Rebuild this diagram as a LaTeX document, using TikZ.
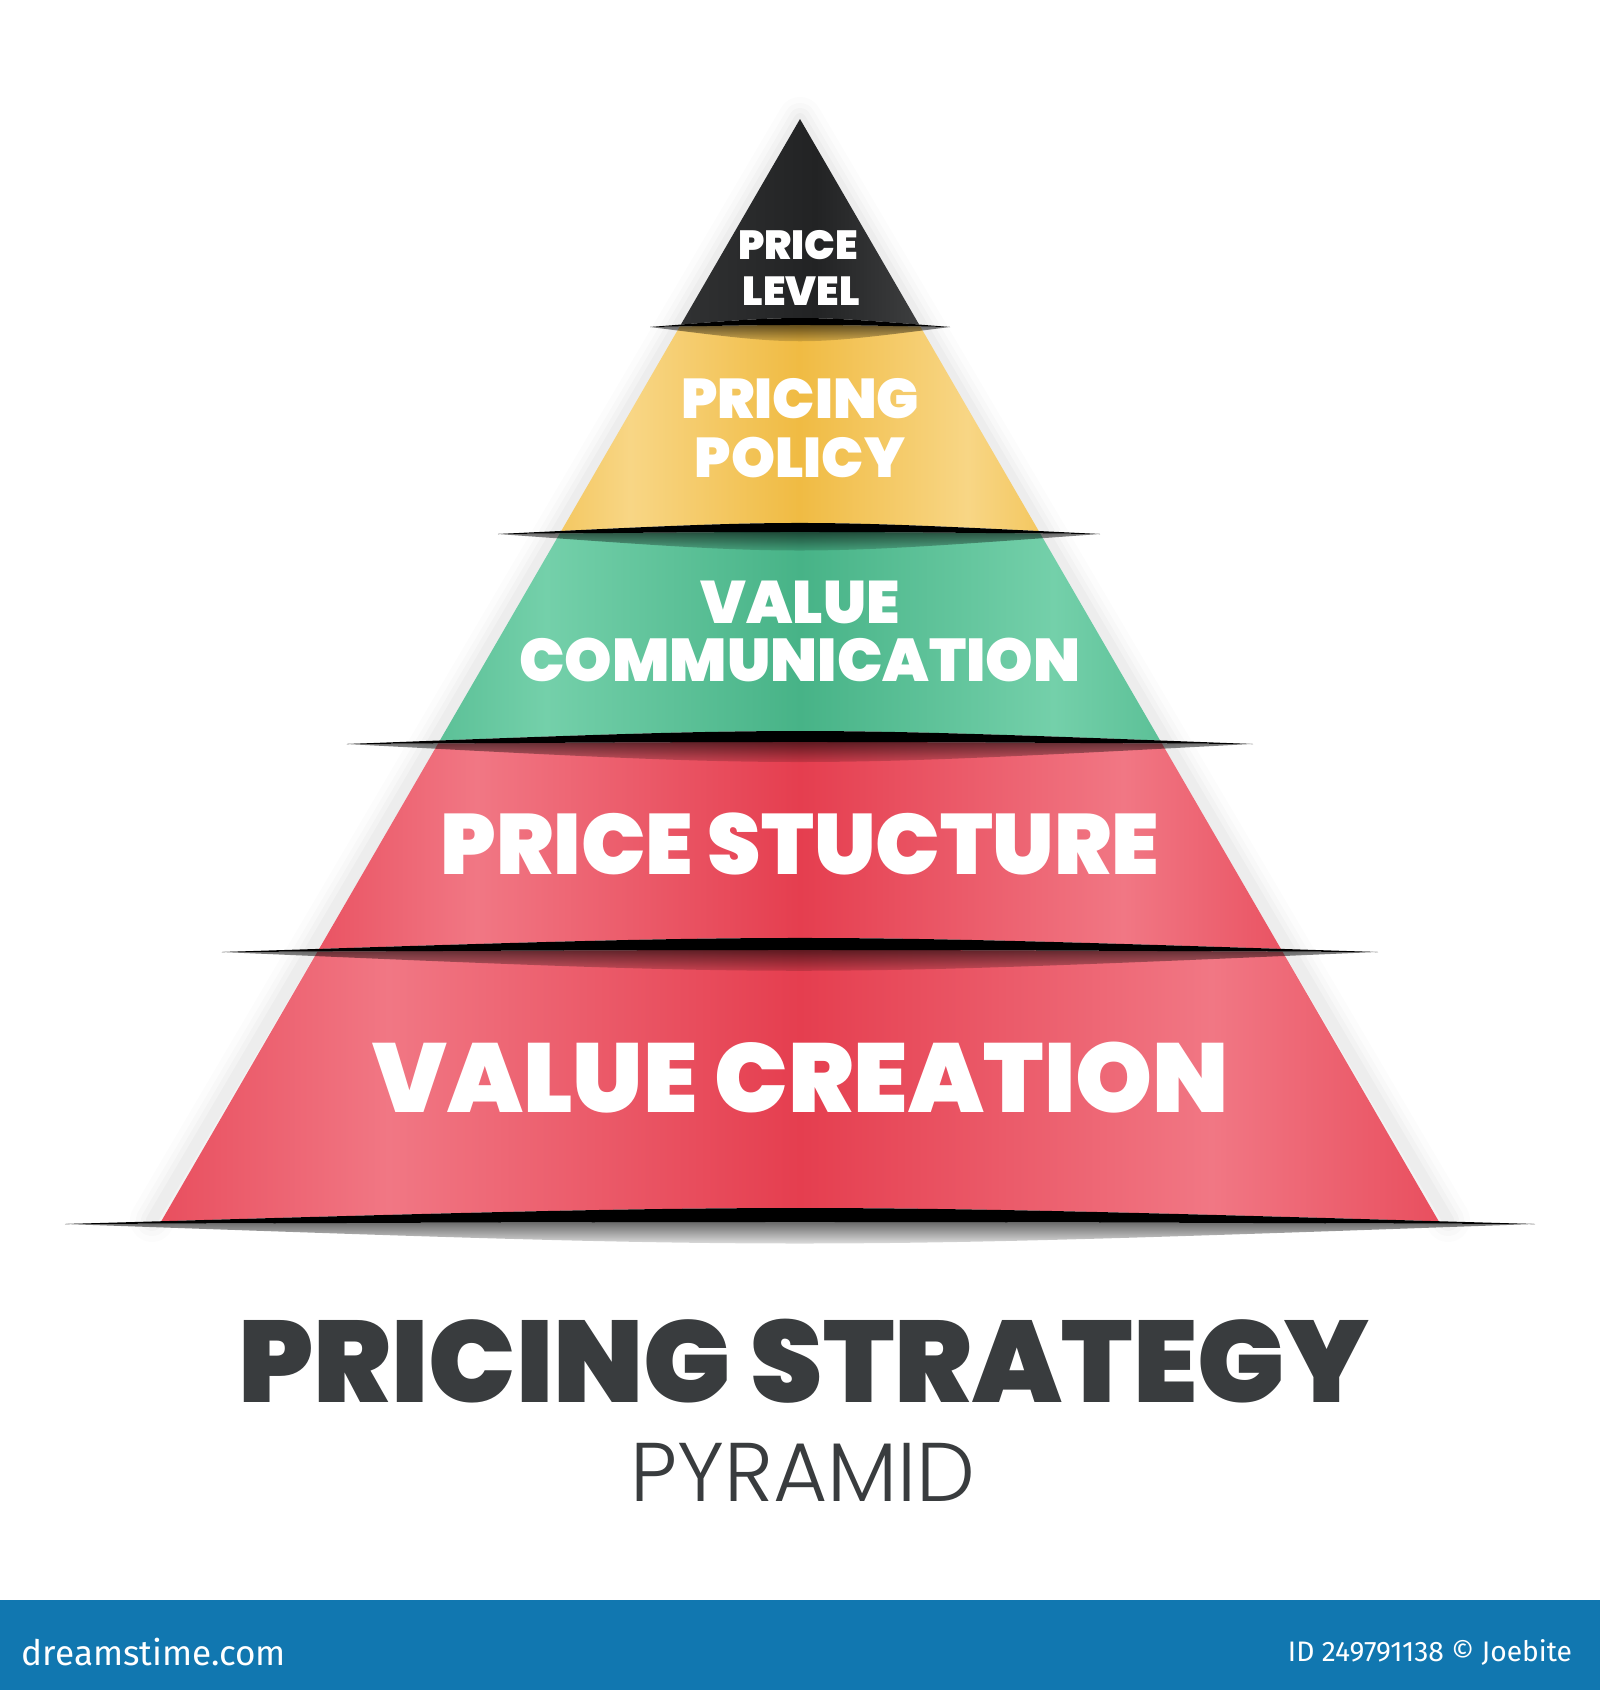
\documentclass[tikz,border=0pt]{standalone}
\usepackage{fontspec}
\usepackage{graphicx}
\usetikzlibrary{fadings}
\setmainfont{Poppins}
\IfFontExistsTF{Poppins Black}{\newfontfamily\heavyfont{Poppins Black}}{%
  \IfFontExistsTF{Poppins ExtraBold}{\newfontfamily\heavyfont{Poppins ExtraBold}}{%
    \newfontfamily\heavyfont{Poppins}[FakeBold=3]}}
\IfFontExistsTF{Poppins Light}{\newfontfamily\lightfont{Poppins Light}}{\newfontfamily\lightfont{Poppins}}
\newfontfamily\footfont{Fira Sans}

\definecolor{bkA}{HTML}{3A3B3C}
\definecolor{bkB}{HTML}{2E2F30}
\definecolor{bkC}{HTML}{222324}
\definecolor{bkD}{HTML}{444546}
\definecolor{ylD}{HTML}{F0BB43}
\definecolor{ylL}{HTML}{F8D685}
\definecolor{grD}{HTML}{47B387}
\definecolor{grL}{HTML}{74D0AA}
\definecolor{rdD}{HTML}{E53E4F}
\definecolor{rdL}{HTML}{F17784}
\definecolor{titlegray}{HTML}{393C3E}
\definecolor{footblue}{HTML}{1177B0}

\pgfdeclarehorizontalshading{blacksh}{100bp}{color(0bp)=(bkA); color(25bp)=(bkA); color(38bp)=(bkB); color(52bp)=(bkC); color(68bp)=(bkD); color(75bp)=(bkB); color(100bp)=(bkB)}
\pgfdeclarehorizontalshading{yellowsh}{100bp}{color(0bp)=(ylD); color(25bp)=(ylD); color(36bp)=(ylL); color(50bp)=(ylD); color(64bp)=(ylL); color(75bp)=(ylD); color(100bp)=(ylD)}
\pgfdeclarehorizontalshading{greensh}{100bp}{color(0bp)=(grD); color(25bp)=(grD); color(36bp)=(grL); color(50bp)=(grD); color(64bp)=(grL); color(75bp)=(grD); color(100bp)=(grD)}
\pgfdeclarehorizontalshading{redsh}{100bp}{color(0bp)=(rdD); color(25bp)=(rdD); color(36bp)=(rdL); color(50bp)=(rdD); color(64bp)=(rdL); color(75bp)=(rdD); color(100bp)=(rdD)}

\tikzset{
  tiertext/.style={text=white, inner sep=0pt, font=\heavyfont},
  slitbody/.style={fill=black},
  slitshadow/.style={fill=black, opacity=0.6, path fading=south},
  glow/.style={draw=black, line join=round, line cap=round},
}

\begin{document}
\begin{tikzpicture}[x=1pt,y=-1pt]
\useasboundingbox (0,0) rectangle (1600,1690);
\fill[white] (0,0) rectangle (1600,1690);

% soft halo around the pyramid
\foreach \w/\o in {44/0.012, 32/0.016, 22/0.02, 12/0.025}
  \draw[glow, opacity=\o, line width=\w pt] (152,1220) -- (800,119) -- (1448,1220);

% tiers
\begin{scope}
  \clip (800,119) -- (150.4,1240) -- (1449.6,1240) -- cycle;
  \shade[shading=blacksh] (600,100) -- (1000,100) -- (950,327) .. controls (800,315) .. (650,327) -- cycle;
  \shade[shading=yellowsh] (650,327) .. controls (800,324.3) .. (950,327) -- (1100,534) .. controls (800,519.3) .. (498,534) -- cycle;
  \shade[shading=greensh] (498,534) .. controls (800,531.3) .. (1100,534) -- (1253,744) .. controls (800,726.7) .. (347,744) -- cycle;
  \shade[shading=redsh] (347,744) .. controls (800,741.3) .. (1253,744) -- (1378,952) .. controls (800,933.3) .. (222,952) -- cycle;
  \shade[shading=redsh] (222,952) .. controls (800,949.3) .. (1378,952) -- (1535,1224) .. controls (800,1202.7) .. (65,1224) -- cycle;
\end{scope}

% slits with their shadows
\fill[slitshadow] (650,327) .. controls (800,324.3) .. (950,327) .. controls (800,346) .. (650,327) -- cycle;
\fill[slitbody] (650,327) .. controls (800,315) .. (950,327) .. controls (800,324.3) .. (650,327) -- cycle;

\fill[slitshadow] (498,534) .. controls (800,531.3) .. (1100,534) .. controls (800,556) .. (498,534) -- cycle;
\fill[slitbody] (498,534) .. controls (800,519.3) .. (1100,534) .. controls (800,531.3) .. (498,534) -- cycle;

\fill[slitshadow] (347,744) .. controls (800,741.3) .. (1253,744) .. controls (800,768) .. (347,744) -- cycle;
\fill[slitbody] (347,744) .. controls (800,726.7) .. (1253,744) .. controls (800,741.3) .. (347,744) -- cycle;

\fill[slitshadow] (222,952) .. controls (800,949.3) .. (1378,952) .. controls (800,977) .. (222,952) -- cycle;
\fill[slitbody] (222,952) .. controls (800,933.3) .. (1378,952) .. controls (800,949.3) .. (222,952) -- cycle;

\fill[slitshadow] (65,1224) .. controls (800,1221.3) .. (1535,1224) .. controls (800,1250) .. (65,1224) -- cycle;
\fill[slitbody] (65,1224) .. controls (800,1202.7) .. (1535,1224) .. controls (800,1221.3) .. (65,1224) -- cycle;

% tier labels
\node[tiertext] (t1a) at (798,245) {\resizebox{120pt}{!}{PRICE}};
\node[tiertext] (t1b) at (801,291) {\resizebox{117pt}{!}{LEVEL}};
\node[tiertext] (t2a) at (800,399) {\resizebox{238pt}{!}{PRICING}};
\node[tiertext] (t2b) at (800,458) {\resizebox{210pt}{!}{POLICY}};
\node[tiertext] (t3a) at (800,602) {\resizebox{199pt}{!}{VALUE}};
\node[tiertext] (t3b) at (800,660) {\resizebox{561pt}{!}{COMMUNICATION}};
\node[tiertext] (t4) at (800,844) {\resizebox{719pt}{!}{PRICE STUCTURE}};
\node[tiertext] (t5) at (801,1078) {\resizebox{856pt}{!}{VALUE CREATION}};

% title
\node[inner sep=0pt, text=titlegray, font=\heavyfont] (title) at (804,1361) {\resizebox{1130pt}{!}{PRICING STRATEGY}};
\node[inner sep=0pt, text=titlegray, font=\lightfont] (sub) at (803,1472) {\resizebox{345pt}{!}{PYRAMID}};

% footer bar
\fill[footblue] (0,1600) rectangle (1600,1690);
\node[inner sep=0pt, text=white, font=\footfont] (logo) at (154,1652) {\resizebox{264pt}{!}{dreamstime.com}};
\node[inner sep=0pt, text=white, font=\footfont] (credit) at (1430,1652) {\resizebox{284pt}{!}{ID 249791138 © Joebite}};
\end{tikzpicture}
\end{document}
